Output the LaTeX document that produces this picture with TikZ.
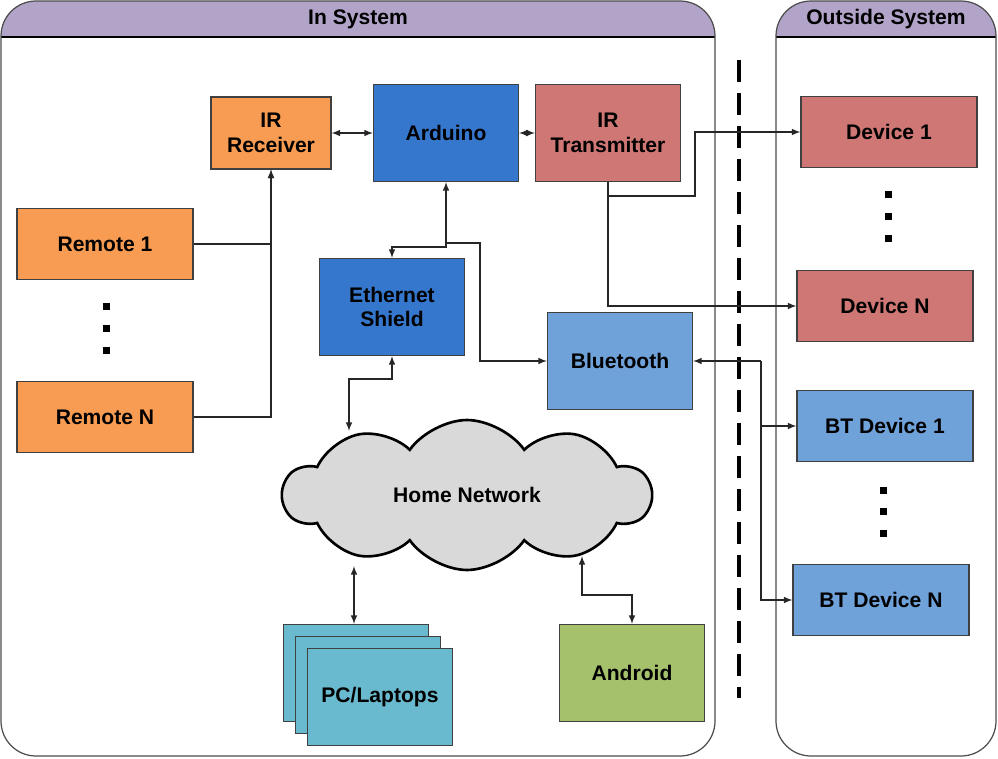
\documentclass[tikz,border=0pt]{standalone}
\usepackage{fontspec}
\setmainfont{Liberation Sans}
\usetikzlibrary{shapes.symbols}

\definecolor{orng}{HTML}{F79C52}
\definecolor{dblue}{HTML}{3577CC}
\definecolor{lblue}{HTML}{70A2DA}
\definecolor{rose}{HTML}{CF7775}
\definecolor{cyanbox}{HTML}{69BACF}
\definecolor{olive}{HTML}{A6C16C}
\definecolor{hdr}{HTML}{B2A4C9}
\definecolor{cloudgray}{HTML}{D9D9D9}

\tikzstyle{box}=[draw=black!75, line width=0.6pt, font=\fontsize{12}{14}\selectfont\bfseries, align=center, inner sep=0pt]
\tikzstyle{small}=[box, minimum width=3.52cm, minimum height=1.42cm]
\tikzstyle{big}=[box, minimum width=2.9cm, minimum height=1.94cm]
\tikzstyle{arrow}=[draw=black!85, line width=0.7pt, -latex]
\tikzstyle{biarrow}=[draw=black!85, line width=0.7pt, latex-latex]
\tikzstyle{dot}=[fill=black, minimum size=0.14cm, inner sep=0pt]
\tikzstyle{frame}=[draw=black!70, line width=0.7pt, rounded corners=0.7cm]
\tikzstyle{title}=[font=\fontsize{12}{14}\selectfont\bfseries]

\begin{document}
\begin{tikzpicture}[x=0.02cm, y=-0.02cm]
      \useasboundingbox (0,0) rectangle (998,758);

      % containers
      \begin{scope}
        \clip[rounded corners=0.7cm] (1,1) rectangle (715,756);
        \fill[hdr] (1,1) rectangle (715,37);
      \end{scope}
      \begin{scope}
        \clip[rounded corners=0.7cm] (776,1) rectangle (996,756);
        \fill[hdr] (776,1) rectangle (996,37);
      \end{scope}
      \draw[line width=0.8pt] (1,37) -- (715,37);
      \draw[line width=0.8pt] (776,37) -- (996,37);
      \draw[frame] (1,1) rectangle (715,756);
      \draw[frame] (776,1) rectangle (996,756);
      \node[title] (ins) at (358,19) {In System};
      \node[title] (outs) at (886,19) {Outside System};
      \draw[line width=1.8pt, dash pattern=on 0.44cm off 0.22cm] (739,60) -- (739,698);

      % in system
      \node[box, fill=orng, minimum width=2.4cm, minimum height=1.44cm] (rx) at (271,133) {IR\\Receiver};
      \node[big, fill=dblue] (ard) at (446,133) {Arduino};
      \node[big, fill=rose] (irtx) at (608,133) {IR\\Transmitter};
      \node[small, fill=orng] (rem1) at (105,244) {Remote 1};
      \node[small, fill=orng] (remn) at (105,417) {Remote N};
      \node[big, fill=dblue] (eth) at (392,307) {Ethernet\\Shield};
      \node[big, fill=lblue] (bt) at (620,361) {Bluetooth};
      \node[cloud, draw, fill=cloudgray, line width=1.5pt, cloud puffs=10, cloud puff arc=110, aspect=2.4,
            minimum width=7.35cm, minimum height=3.0cm, inner sep=0pt, font=\fontsize{12}{14}\selectfont\bfseries] (net) at (467,495) {Home Network};
      \node[big, fill=cyanbox] (pc1) at (356,673) {};
      \node[big, fill=cyanbox] (pc2) at (368,685) {};
      \node[big, fill=cyanbox] (pc3) at (380,697) {PC/Laptops};
      \node[big, fill=olive] (andr) at (632,673) {Android};

      % outside system
      \node[small, fill=rose] (dev1) at (889,132) {Device 1};
      \node[small, fill=rose] (devn) at (885,306) {Device N};
      \node[small, fill=lblue] (btd1) at (885,426) {BT Device 1};
      \node[small, fill=lblue] (btdn) at (881,600) {BT Device N};

      % dots
      \node[dot] (d1) at (106,306) {};
      \node[dot] (d2) at (106,328) {};
      \node[dot] (d3) at (106,350) {};
      \node[dot] (d4) at (888,194) {};
      \node[dot] (d5) at (888,216) {};
      \node[dot] (d6) at (888,238) {};
      \node[dot] (d7) at (883,490) {};
      \node[dot] (d8) at (883,511) {};
      \node[dot] (d9) at (883,533) {};

      % junctions
      \coordinate (j1) at (446,247);
      \coordinate (j2) at (480,243);
      \coordinate (j4) at (695,196);
      \coordinate (j5) at (761,361);
      \coordinate (c1) at (349,431);
      \coordinate (c2) at (354,566);
      \coordinate (c3) at (582,556);

      \draw[biarrow] (rx) -- (ard);
      \draw[biarrow] (ard) -- (irtx);
      \draw[arrow] (rem1) -| (rx);
      \draw[arrow] (remn) -| (rx);
      \draw[biarrow] (ard) -- (j1) -| (eth);
      \draw[arrow] (ard.south |- j2) -- (j2) |- (bt);
      \draw[biarrow] (eth.south) -- ++(0,23) -| (c1);
      \draw[biarrow] (c2) -- (c2 |- pc1.north);
      \draw[biarrow] (c3) -- ++(0,39) -| (andr);
      \draw[arrow] (irtx) |- (j4) |- (dev1);
      \draw[arrow] (irtx) |- (devn);
      \draw[arrow] (j5) -- (bt);
      \draw[arrow] (j5) |- (btd1);
      \draw[arrow] (j5) |- (btdn);
\end{tikzpicture}
\end{document}
